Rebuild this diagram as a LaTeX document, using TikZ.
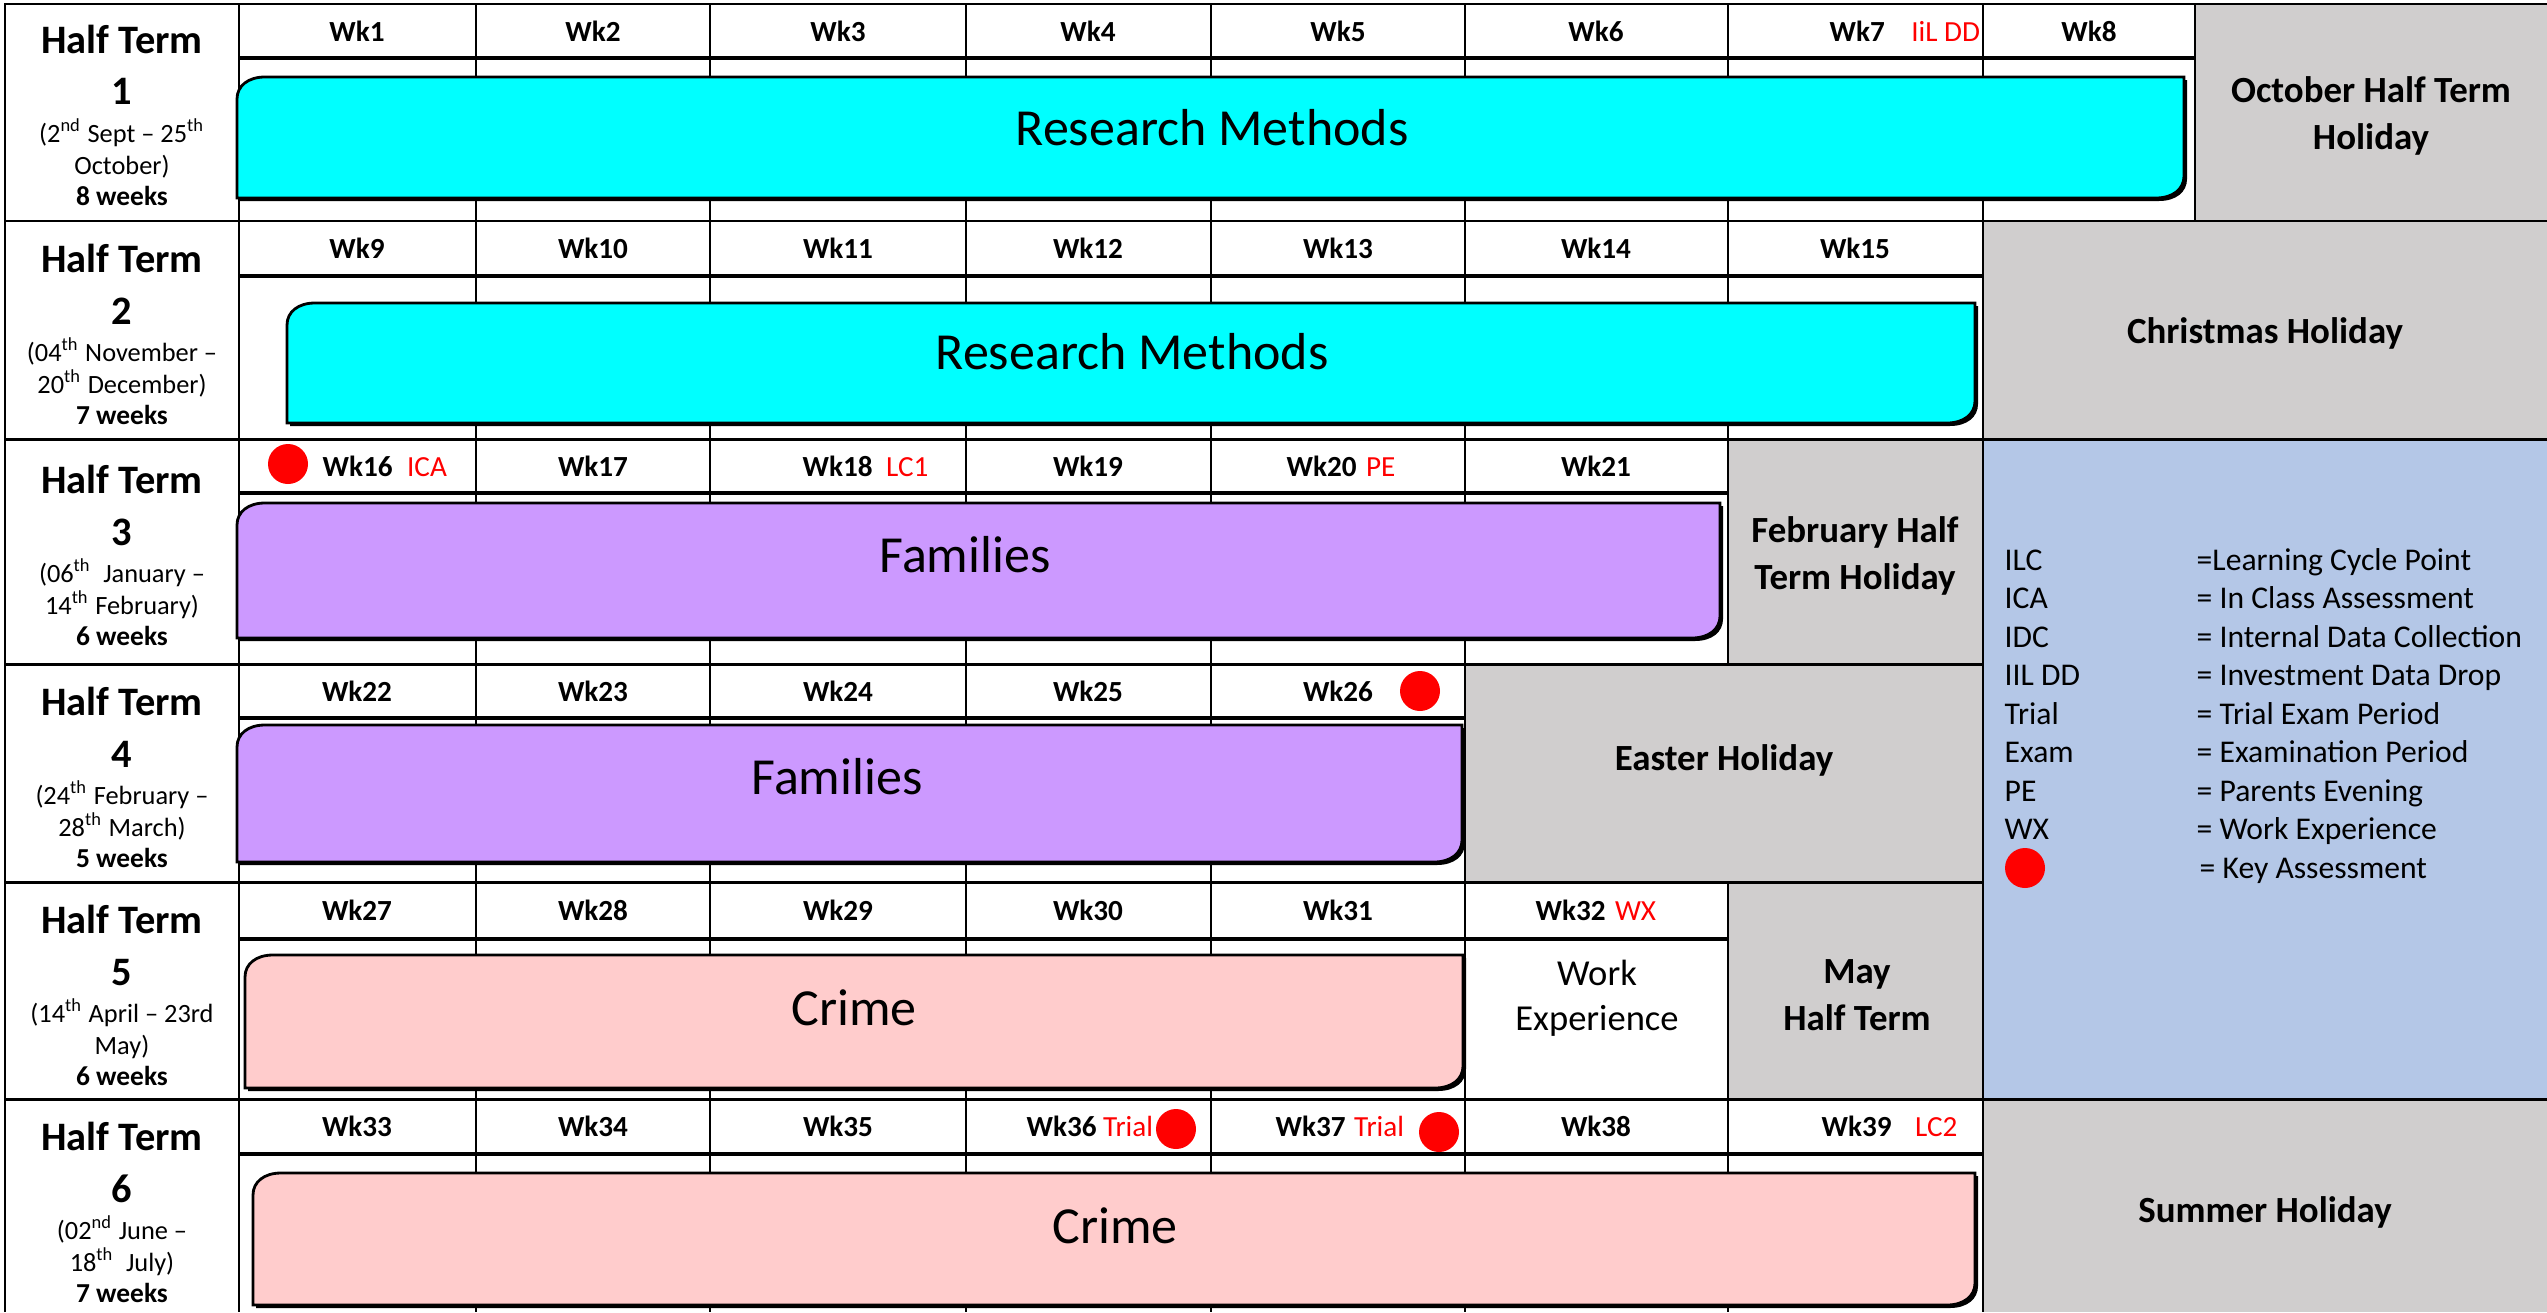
\documentclass[tikz,border=0pt]{standalone}
\usepackage{fontspec}
\setmainfont{Carlito}
\usetikzlibrary{positioning}
\definecolor{holgrey}{RGB}{208,206,206}
\definecolor{keyblue}{RGB}{180,199,231}
\definecolor{rmcyan}{RGB}{0,255,255}
\definecolor{famlilac}{RGB}{204,153,255}
\definecolor{crimepink}{RGB}{255,204,204}
\tikzset{
    wk/.style = {font=\bfseries\fontsize{8.3}{10}\selectfont, inner sep=0pt},
    note/.style = {font=\fontsize{8.3}{10}\selectfont, text=red, inner sep=0pt},
    htitle/.style = {font=\bfseries\fontsize{11.5}{14}\selectfont, anchor=base, inner sep=0pt},
    hdate/.style = {font=\fontsize{7.5}{9}\selectfont, anchor=base, inner sep=0pt},
    hweeks/.style = {font=\bfseries\fontsize{7.8}{9}\selectfont, anchor=base, inner sep=0pt},
    holiday/.style = {font=\bfseries\fontsize{10.5}{13.3}\selectfont, align=center},
    wexp/.style = {font=\fontsize{10.4}{12.8}\selectfont, align=center},
    topic/.style = {font=\fontsize{14.8}{18}\selectfont},
    legend/.style = {font=\fontsize{9}{11}\selectfont, anchor=base west, inner sep=0pt},
    keydot/.style = {circle, fill=red, minimum size=4mm, inner sep=0pt},
    topicbar/.style = {draw=black, line width=0.8pt,
        preaction={fill=black, transform canvas={xshift=0.3mm, yshift=-0.3mm}}},
    gridline/.style = {line width=0.6pt},
    rowline/.style = {line width=0.85pt},
    headline/.style = {line width=1pt}
}

\begin{document}
\begin{tikzpicture}[x=0.1mm, y=-0.1mm]
    \useasboundingbox (0,0) rectangle (2547,1312);
    % holidays and key
    \fill[holgrey] (2195,4) rectangle (2547,221);
    \fill[holgrey] (1983,221) rectangle (2547,439);
    \fill[holgrey] (1728,439) rectangle (1983,664);
    \fill[holgrey] (1465,664) rectangle (1983,882);
    \fill[holgrey] (1728,882) rectangle (1983,1099);
    \fill[holgrey] (1983,1099) rectangle (2547,1312);
    \fill[keyblue] (1983,439) rectangle (2547,1099);
    % grid
    \foreach \x in {239,476,710,966,1211,1465,1983}
        \draw[gridline] (\x,4) -- (\x,1312);
    \draw[gridline] (1728,4) -- (1728,664) (1728,882) -- (1728,1312);
    \draw[gridline] (2195,4) -- (2195,221);
    \draw[rowline] (5,1312) -- (5,4) -- (2547,4);
    \foreach \y in {221,439,1099}
        \draw[rowline] (5,\y) -- (2547,\y);
    \foreach \y in {664,882}
        \draw[rowline] (5,\y) -- (1983,\y);
    \foreach \y/\x in {58/2195,276/1983,493/1728,718/1465,939/1728,1154/1983}
        \draw[headline] (239,\y) -- (\x,\y);
    % topic bars
    \foreach \xa/\ya/\xb/\yb/\col/\tx/\ty/\lbl [count=\i] in {
        237/77/2184/198/rmcyan/1212/128/Research Methods,
        287/303/1975/423/rmcyan/1132/352/Research Methods,
        237/503/1720/638/famlilac/965/555/Families,
        237/725/1462/862/famlilac/837/777/Families,
        245/955/1463/1088/crimepink/854/1008/Crime,
        253/1173/1975/1305/crimepink/1115/1226/Crime}
    {
        \filldraw[topicbar, fill=\col] ({\xa},{\yb}) -- ({\xa},{\ya+22})
            .. controls ({\xa},{\ya+9}) and ({\xa+11},{\ya}) .. ({\xa+28},{\ya})
            -- ({\xb},{\ya}) -- ({\xb},{\yb-22})
            .. controls ({\xb},{\yb-9}) and ({\xb-11},{\yb}) .. ({\xb-28},{\yb}) -- cycle;
        \node[topic] (topic\i) at (\tx,\ty) {\lbl};
    }
    % half terms
    \foreach \n/\yc/\da/\db/\wk in {
        1/112/{(2\textsuperscript{nd} Sept -- 25\textsuperscript{th}}/{October)}/8,
        2/331/{(04\textsuperscript{th} November --}/{20\textsuperscript{th} December)}/7,
        3/552/{(06\textsuperscript{th}\ \ January --}/{14\textsuperscript{th} February)}/6,
        4/774/{(24\textsuperscript{th} February --}/{28\textsuperscript{th} March)}/5,
        5/992/{(14\textsuperscript{th} April -- 23rd}/{May)}/6,
        6/1209/{(02\textsuperscript{nd} June --}/{18\textsuperscript{th}\ \ July)}/7}
    {
        \node[htitle] (ht\n) at (122,{\yc-59}) {Half Term};
        \node[htitle] (htn\n) at (122,{\yc-7}) {\n};
        \node[hdate] (hda\n) at (122,{\yc+30}) {\da};
        \node[hdate] (hdb\n) at (122,{\yc+62}) {\db};
        \node[hweeks] (hw\n) at (122,{\yc+93}) {\wk\ weeks};
    }
    % weeks
    \foreach \x/\y/\t in {357/31/Wk1,593/31/Wk2,838/31/Wk3,1088/31/Wk4,1338/31/Wk5,1596/31/Wk6,2089/31/Wk8,
        357/248/Wk9,593/248/Wk10,838/248/Wk11,1088/248/Wk12,1338/248/Wk13,1596/248/Wk14,1855/248/Wk15,
        593/466/Wk17,1088/466/Wk19,1596/466/Wk21,
        357/691/Wk22,593/691/Wk23,838/691/Wk24,1088/691/Wk25,1338/691/Wk26,
        357/910/Wk27,593/910/Wk28,838/910/Wk29,1088/910/Wk30,1338/910/Wk31,
        357/1126/Wk33,593/1126/Wk34,838/1126/Wk35,1596/1126/Wk38}
        \node[wk] (\t) at (\x,\y) {\t};
    \node[wk, anchor=west] (Wk7) at (1829,31) {Wk7};
    \node[note, base right=2.5mm of Wk7] (iil) {IiL DD};
    \node[keydot] (dot16) at (288,464) {};
    \node[wk, anchor=west] (Wk16) at (322,466) {Wk16};
    \node[note, base right=1.3mm of Wk16] (ica) {ICA};
    \node[wk, anchor=west] (Wk18) at (802,466) {Wk18};
    \node[note, base right=1.2mm of Wk18] (lc1) {LC1};
    \node[wk, anchor=west] (Wk20) at (1286,466) {Wk20};
    \node[note, base right=0.8mm of Wk20] (pe) {PE};
    \node[keydot] (dot26) at (1420,691) {};
    \node[wk, anchor=west] (Wk32) at (1535,910) {Wk32};
    \node[note, base right=0.8mm of Wk32] (wx) {WX};
    \node[wk, anchor=west] (Wk36) at (1026,1126) {Wk36};
    \node[note, base right=0.5mm of Wk36] (trial36) {Trial};
    \node[keydot] (dot36) at (1176,1129) {};
    \node[wk, anchor=west] (Wk37) at (1275,1126) {Wk37};
    \node[note, base right=0.7mm of Wk37] (trial37) {Trial};
    \node[keydot] (dot37) at (1439,1132) {};
    \node[wk, anchor=west] (Wk39) at (1821,1126) {Wk39};
    \node[note, base right=2.2mm of Wk39] (lc2) {LC2};
    % holidays
    \node[holiday] (octhol) at (2371,116) {October Half Term\\Holiday};
    \node[holiday] (xmas) at (2265,333) {Christmas Holiday};
    \node[holiday] (febhol) at (1855,556) {February Half\\Term Holiday};
    \node[holiday] (easter) at (1724,760) {Easter Holiday};
    \node[holiday] (mayhol) at (1857,995) {May\\Half Term};
    \node[holiday] (summer) at (2265,1212) {Summer Holiday};
    \node[wexp] (wexp) at (1597,998) {Work\\Experience};
    % key
    \foreach \k/\v [count=\i] in {ILC/=Learning Cycle Point, ICA/= In Class Assessment,
        IDC/= Internal Data Collection, IIL DD/= Investment Data Drop, Trial/= Trial Exam Period,
        Exam/= Examination Period, PE/= Parents Evening, WX/= Work Experience}
    {
        \node[legend] (key\i) at (2004,{570+38.5*(\i-1)}) {\k};
        \node[legend] (val\i) at (2196,{570+38.5*(\i-1)}) {\v};
    }
    \node[keydot] (keydot) at (2025,868) {};
    \node[legend] (val9) at (2199,878) {= Key Assessment};
\end{tikzpicture}
\end{document}
